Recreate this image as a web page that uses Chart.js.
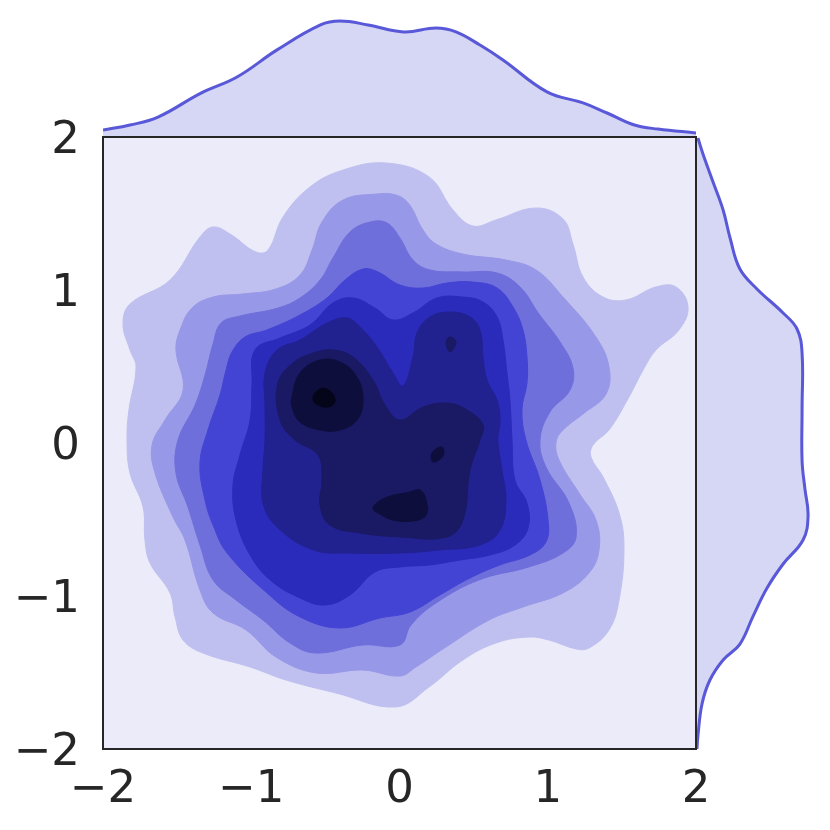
<!DOCTYPE html>
<html lang="en">
<head>
<meta charset="UTF-8">
<title>KDE joint plot</title>
<script src="https://cdn.jsdelivr.net/npm/chart.js@4"></script>
<style>
    body { margin: 0; background: #ffffff; }
    #wrap { position: relative; width: 830px; height: 830px; overflow: hidden; }
    canvas { position: absolute; }
    #top { left: 0; top: 0; z-index: 1; }
    #right { left: 690px; top: 130px; z-index: 1; }
    #main { left: 0; top: 100px; z-index: 2; }
</style>
</head>
<body>
<div id="wrap">
    <canvas id="top" width="830" height="140"></canvas>
    <canvas id="right" width="140" height="630"></canvas>
    <canvas id="main" width="730" height="730"></canvas>
</div>
<script>
// tick values for both axes of the joint plot
const tickValues = [-2, -1, 0, 1, 2];

// filled density levels, lightest (outer) to darkest (inner)
const levelColors = ['#c0c0f0', '#9898e8', '#6f6fdc', '#4444d4', '#2b2bbb', '#212190', '#191964', '#0e0e3c', '#05051a'];

// contour outlines, [x, y]
const contour1 = [[-1.865,0.778],[-1.818,0.908],[-1.548,1.065],[-1.346,1.346],[-1.258,1.412],[-1.143,1.366],[-0.968,1.248],[-0.887,1.261],[-0.786,1.477],[-0.604,1.673],[-0.381,1.784],[-0.091,1.830],[0.199,1.739],[0.361,1.523],[0.496,1.418],[0.651,1.458],[0.921,1.536],[1.103,1.464],[1.170,1.301],[1.238,1.085],[1.373,0.954],[1.528,0.935],[1.730,1.020],[1.865,1.020],[1.946,0.889],[1.885,0.739],[1.730,0.608],[1.643,0.477],[1.548,0.301],[1.413,0.085],[1.305,-0.013],[1.292,-0.092],[1.373,-0.222],[1.481,-0.458],[1.514,-0.680],[1.481,-1.026],[1.413,-1.222],[1.278,-1.340],[1.191,-1.346],[1.008,-1.288],[0.874,-1.268],[0.651,-1.307],[0.428,-1.418],[0.199,-1.595],[-0.024,-1.725],[-0.428,-1.634],[-0.766,-1.549],[-1.008,-1.464],[-1.325,-1.373],[-1.460,-1.288],[-1.514,-1.137],[-1.548,-0.980],[-1.683,-0.784],[-1.717,-0.634],[-1.730,-0.418],[-1.818,-0.196],[-1.838,0.020],[-1.825,0.216],[-1.777,0.497],[-1.818,0.608]];
const contour2 = [[-1.508,0.608],[-1.480,0.739],[-1.400,0.882],[-1.258,0.954],[-1.056,0.974],[-0.833,1.007],[-0.671,1.098],[-0.590,1.261],[-0.523,1.444],[-0.381,1.588],[-0.159,1.627],[-0.024,1.621],[0.064,1.562],[0.159,1.392],[0.246,1.301],[0.428,1.235],[0.718,1.196],[0.921,1.131],[1.103,0.954],[1.325,0.693],[1.413,0.497],[1.393,0.320],[1.238,0.190],[1.103,0.085],[1.056,0.007],[1.076,-0.111],[1.211,-0.327],[1.325,-0.503],[1.346,-0.699],[1.278,-0.850],[1.103,-0.980],[0.833,-1.072],[0.604,-1.157],[0.314,-1.333],[0.111,-1.464],[0.003,-1.523],[-0.246,-1.484],[-0.563,-1.503],[-0.833,-1.399],[-1.035,-1.222],[-1.258,-1.111],[-1.346,-0.961],[-1.447,-0.634],[-1.528,-0.484],[-1.649,-0.196],[-1.669,-0.013],[-1.582,0.150],[-1.460,0.346]];
const contour3 = [[-1.258,0.647],[-1.204,0.784],[-1.076,0.830],[-0.820,0.882],[-0.671,0.948],[-0.536,1.065],[-0.449,1.209],[-0.334,1.379],[-0.199,1.444],[-0.084,1.438],[0.003,1.340],[0.091,1.196],[0.206,1.131],[0.428,1.118],[0.658,1.111],[0.813,1.020],[0.941,0.843],[1.083,0.660],[1.170,0.490],[1.150,0.346],[1.015,0.203],[0.948,0.020],[0.988,-0.157],[1.143,-0.392],[1.191,-0.614],[1.103,-0.719],[0.873,-0.810],[0.536,-0.895],[0.246,-1.046],[0.078,-1.189],[0.003,-1.320],[-0.246,-1.320],[-0.563,-1.373],[-0.739,-1.307],[-0.921,-1.157],[-1.103,-1.026],[-1.258,-0.895],[-1.346,-0.667],[-1.427,-0.418],[-1.508,-0.196],[-1.494,0.020],[-1.379,0.248],[-1.312,0.444]];
const contour4 = [[-1.130,0.595],[-1.042,0.693],[-0.894,0.739],[-0.671,0.837],[-0.489,0.948],[-0.368,1.065],[-0.246,1.137],[-0.145,1.118],[0.003,1.033],[0.159,1.013],[0.320,1.046],[0.496,1.052],[0.658,1.013],[0.766,0.889],[0.833,0.739],[0.860,0.562],[0.860,0.392],[0.826,0.216],[0.853,0.020],[0.948,-0.242],[1.002,-0.503],[0.988,-0.647],[0.880,-0.732],[0.678,-0.797],[0.476,-0.882],[0.273,-0.993],[0.071,-1.105],[-0.132,-1.144],[-0.401,-1.209],[-0.671,-1.137],[-0.894,-0.980],[-1.163,-0.719],[-1.258,-0.536],[-1.312,-0.373],[-1.346,-0.131],[-1.292,0.085],[-1.211,0.314],[-1.170,0.477]];
const contour5 = [[-0.975,0.608],[-0.806,0.686],[-0.604,0.771],[-0.449,0.915],[-0.314,0.948],[-0.165,0.882],[-0.044,0.804],[0.091,0.850],[0.253,0.948],[0.428,0.954],[0.563,0.922],[0.658,0.824],[0.698,0.673],[0.725,0.458],[0.745,0.281],[0.759,0.020],[0.779,-0.242],[0.860,-0.392],[0.867,-0.556],[0.779,-0.667],[0.610,-0.732],[0.408,-0.765],[0.206,-0.797],[0.003,-0.810],[-0.165,-0.843],[-0.334,-0.993],[-0.503,-1.059],[-0.671,-1.013],[-0.873,-0.895],[-1.008,-0.732],[-1.103,-0.503],[-1.123,-0.275],[-1.076,-0.078],[-1.008,0.150],[-0.995,0.379]];
const contour6 = [[-0.907,0.458],[-0.826,0.608],[-0.671,0.673],[-0.489,0.784],[-0.354,0.817],[-0.266,0.758],[-0.152,0.627],[-0.044,0.458],[0.024,0.373],[0.091,0.562],[0.118,0.719],[0.206,0.824],[0.341,0.856],[0.476,0.824],[0.543,0.739],[0.563,0.562],[0.590,0.412],[0.658,0.281],[0.678,0.150],[0.664,0.020],[0.691,-0.176],[0.718,-0.373],[0.678,-0.569],[0.543,-0.667],[0.273,-0.699],[0.003,-0.719],[-0.334,-0.719],[-0.583,-0.699],[-0.826,-0.549],[-0.921,-0.392],[-0.921,-0.176],[-0.907,0.020],[-0.907,0.248]];
const contour7 = [[-0.820,0.392],[-0.806,0.150],[-0.705,0.020],[-0.550,-0.078],[-0.523,-0.242],[-0.536,-0.405],[-0.469,-0.536],[-0.266,-0.588],[0.003,-0.614],[0.320,-0.614],[0.428,-0.503],[0.476,-0.176],[0.543,0.020],[0.563,0.118],[0.455,0.216],[0.320,0.261],[0.159,0.235],[0.003,0.150],[-0.098,0.248],[-0.179,0.412],[-0.314,0.562],[-0.449,0.608],[-0.583,0.588],[-0.718,0.523]];
const contour7b = [[0.341,0.693],[0.381,0.660],[0.341,0.595],[0.314,0.660]];
const contour8 = [[-0.725,0.301],[-0.671,0.458],[-0.536,0.542],[-0.401,0.529],[-0.287,0.431],[-0.246,0.281],[-0.287,0.150],[-0.401,0.085],[-0.536,0.085],[-0.671,0.137],[-0.725,0.235]];
const contour8b = [[-0.179,-0.425],[-0.098,-0.359],[0.071,-0.320],[0.138,-0.307],[0.179,-0.373],[0.179,-0.471],[0.091,-0.510],[-0.044,-0.503],[-0.132,-0.464]];
const contour8c = [[0.219,-0.065],[0.287,-0.026],[0.293,-0.085],[0.226,-0.124]];
const contour9 = [[-0.570,0.327],[-0.516,0.359],[-0.455,0.327],[-0.435,0.268],[-0.482,0.235],[-0.550,0.248],[-0.583,0.281]];

const contours = [contour1, contour2, contour3, contour4, contour5, contour6, contour7, contour7b, contour8, contour8b, contour8c, contour9];
const contourLevel = [0, 1, 2, 3, 4, 5, 6, 6, 7, 7, 7, 8];

// marginal densities
const topX = [-2.0, -1.818, -1.629, -1.339, -1.096, -0.826, -0.533, -0.401, -0.212, 0.030, 0.246, 0.381, 0.543, 0.698, 0.995, 1.238, 1.400, 1.585, 1.744, 2.0];
const topDensity = [0.029, 0.050, 0.083, 0.183, 0.250, 0.363, 0.467, 0.483, 0.467, 0.438, 0.454, 0.438, 0.383, 0.321, 0.188, 0.142, 0.100, 0.050, 0.033, 0.017];
const rightY = [1.993, 1.889, 1.706, 1.523, 1.340, 1.137, 1.007, 0.850, 0.745, 0.588, 0.222, -0.118, -0.301, -0.477, -0.634, -0.791, -0.948, -1.131, -1.314, -1.418, -1.549, -1.706, -1.915, -2.0];
const rightDensity = [0.008, 0.029, 0.071, 0.113, 0.142, 0.183, 0.254, 0.363, 0.421, 0.442, 0.442, 0.442, 0.454, 0.467, 0.446, 0.363, 0.296, 0.238, 0.183, 0.113, 0.058, 0.025, 0.008, 0.004];

const lineColor = '#5858d8';
const fillColor = '#d6d6f5';
const textColor = '#262626';

function tickText(v) {
    return v < 0 ? '\u2212' + Math.abs(v) : String(v);
}

const plotFrame = {
    id: 'plotFrame',
    beforeDraw(chart) {
        const { ctx, chartArea: a } = chart;
        ctx.save();
        ctx.fillStyle = '#ebebfa';
        ctx.fillRect(a.left, a.top, a.right - a.left, a.bottom - a.top);
        ctx.restore();
    },
    afterDraw(chart) {
        const { ctx, chartArea: a } = chart;
        ctx.save();
        ctx.strokeStyle = textColor;
        ctx.lineWidth = 2;
        ctx.strokeRect(a.left, a.top, a.right - a.left, a.bottom - a.top);
        ctx.restore();
    }
};

// contour outlines are closed curves: let the line element spline round the seam too
const closedOutlines = {
    id: 'closedOutlines',
    afterDatasetUpdate(chart, args) {
        args.meta.dataset._loop = true;
        args.meta.dataset._fullLoop = true;
    }
};

const contourSets = contours.map((pts, i) => {
    const lv = contourLevel[i];
    return {
        data: pts.map(p => ({ x: p[0], y: p[1] })),
        showLine: true,
        fill: 'shape',
        tension: 0.4,
        pointRadius: 0,
        borderWidth: 1,
        borderColor: levelColors[lv],
        backgroundColor: levelColors[lv],
        order: 100 - i
    };
});

new Chart(document.getElementById('main'), {
    type: 'scatter',
    data: { datasets: contourSets },
    options: {
        responsive: false,
        animation: false,
        devicePixelRatio: 1,
        layout: { padding: { top: 37, right: 34, left: 0, bottom: 0 } },
        plugins: { legend: { display: false }, tooltip: { enabled: false } },
        scales: {
            x: {
                type: 'linear', min: -2, max: 2,
                afterBuildTicks: s => { s.ticks = tickValues.map(v => ({ value: v })); },
                afterFit: s => { s.height = 81; s.paddingLeft = 0; s.paddingRight = 0; },
                grid: { display: false, drawTicks: false },
                border: { display: false },
                ticks: { color: textColor, padding: 14, maxRotation: 0, font: { family: 'DejaVu Sans', size: 45 }, callback: tickText }
            },
            y: {
                type: 'linear', min: -2, max: 2,
                afterBuildTicks: s => { s.ticks = tickValues.map(v => ({ value: v })); },
                afterFit: s => { s.width = 103; s.paddingTop = 0; s.paddingBottom = 0; },
                grid: { display: false, drawTicks: false },
                border: { display: false },
                ticks: { color: textColor, padding: 23, labelOffset: 4, font: { family: 'DejaVu Sans', size: 45 }, callback: tickText }
            }
        }
    },
    plugins: [plotFrame, closedOutlines]
});

new Chart(document.getElementById('top'), {
    type: 'scatter',
    data: {
        datasets: [{
            data: topX.map((x, i) => ({ x: x, y: topDensity[i] })),
            showLine: true, fill: 'origin', tension: 0.4, pointRadius: 0,
            borderColor: lineColor, borderWidth: 3, backgroundColor: fillColor
        }]
    },
    options: {
        responsive: false, animation: false, devicePixelRatio: 1,
        layout: { padding: { left: 103, right: 134, top: 17, bottom: 3 } },
        plugins: { legend: { display: false }, tooltip: { enabled: false } },
        scales: {
            x: { type: 'linear', min: -2, max: 2, display: false },
            y: { type: 'linear', min: 0, max: 0.5, display: false }
        }
    }
});

new Chart(document.getElementById('right'), {
    type: 'scatter',
    data: {
        datasets: [{
            data: rightY.map((y, i) => ({ x: rightDensity[i], y: y })),
            showLine: true, fill: 'origin', tension: 0.4, pointRadius: 0,
            borderColor: lineColor, borderWidth: 3, backgroundColor: fillColor
        }]
    },
    options: {
        responsive: false, animation: false, devicePixelRatio: 1,
        indexAxis: 'y',
        layout: { padding: { left: 6, right: 14, top: 7, bottom: 11 } },
        plugins: { legend: { display: false }, tooltip: { enabled: false } },
        scales: {
            x: { type: 'linear', min: 0, max: 0.5, display: false },
            y: { type: 'linear', min: -2, max: 2, display: false }
        }
    }
});
</script>
</body>
</html>
